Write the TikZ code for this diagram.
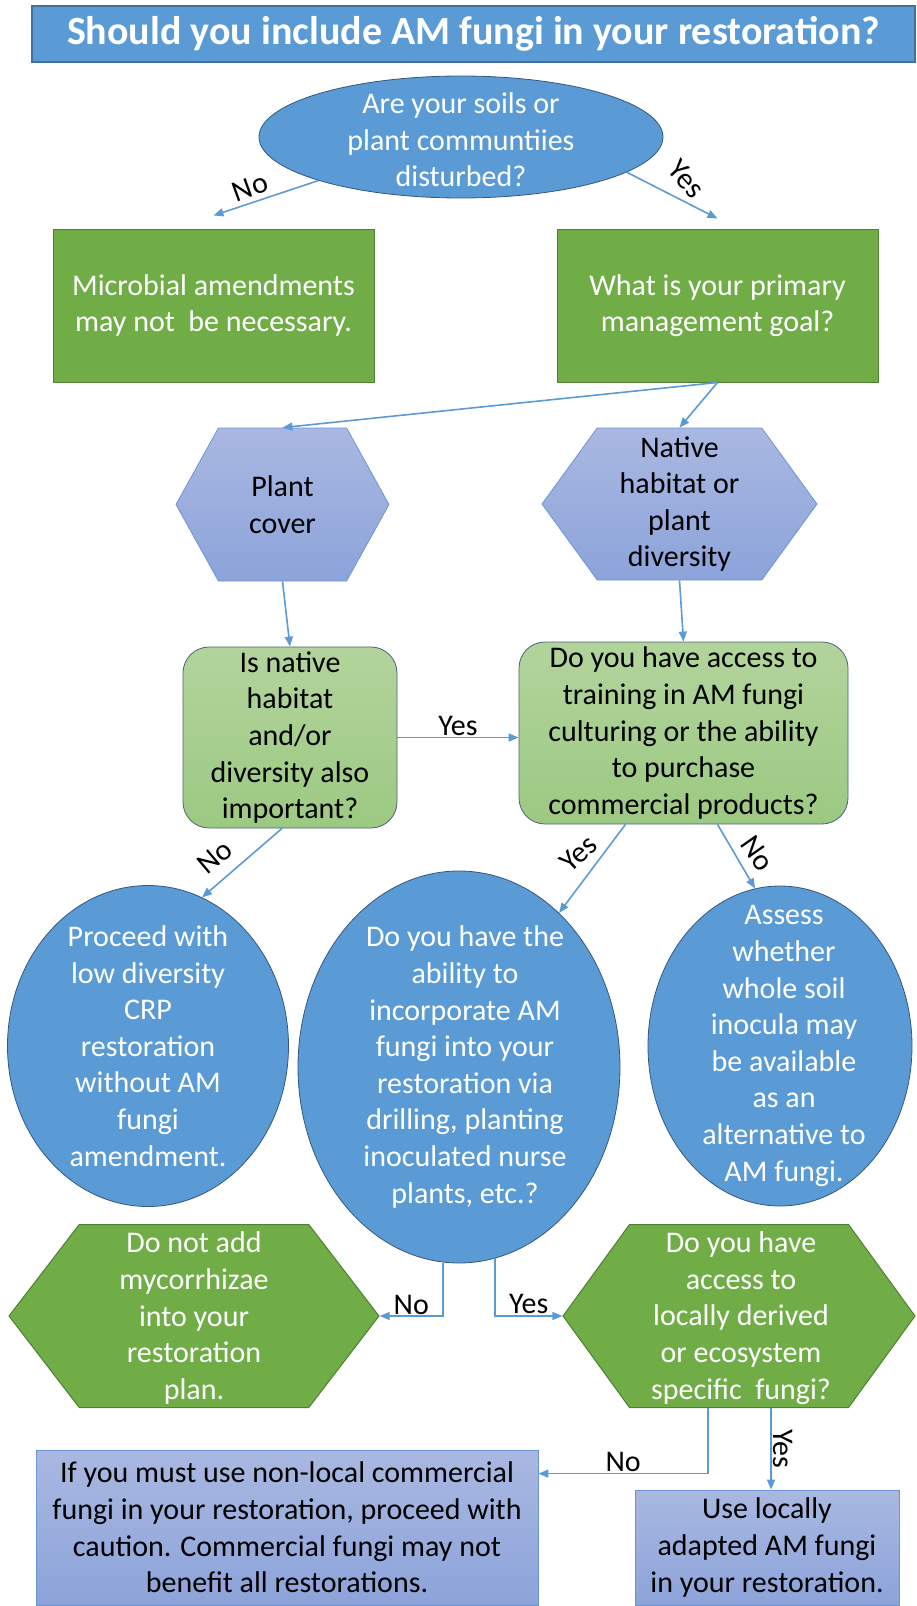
\documentclass[tikz,border=0pt]{standalone}
\usepackage{fontspec}
\setmainfont{Carlito}
\usepackage{xcolor}
\usetikzlibrary{shapes.geometric,shapes.symbols,arrows.meta}
\definecolor{accentblue}{HTML}{5B9BD5}
\definecolor{bluedark}{HTML}{41719C}
\definecolor{discline}{HTML}{35577F}
\definecolor{accentgreen}{HTML}{70AD47}
\definecolor{greendark}{HTML}{507E32}
\definecolor{paletop}{HTML}{A9B8E1}
\definecolor{palebottom}{HTML}{8CA3DA}
\definecolor{paleline}{HTML}{6A96D6}
\definecolor{softtop}{HTML}{B2D49C}
\definecolor{softbottom}{HTML}{9CC982}
\definecolor{softline}{HTML}{4A6378}
\newcommand{\bodyfont}{\fontsize{30}{36.6}\selectfont}
\tikzset{titlebox/.style={rectangle,draw=bluedark,line width=1.5pt,fill=accentblue,text=white,inner sep=0pt,font=\fontsize{40}{48}\selectfont\bfseries}}
\tikzset{bluedisc/.style={ellipse,draw=discline,line width=0.8pt,fill=accentblue,inner sep=0pt}}
\tikzset{greenbox/.style={rectangle,draw=greendark,line width=1pt,fill=accentgreen,text=white,align=center,font=\bodyfont,minimum width=321pt,minimum height=153pt}}
\tikzset{hexblue/.style={signal,signal to=east and west,draw=paleline,line width=0.8pt,top color=paletop,bottom color=palebottom,inner sep=0pt}}
\tikzset{hexgreen/.style={signal,signal to=east and west,draw=greendark,line width=1pt,fill=accentgreen,inner sep=0pt}}
\tikzset{softgreen/.style={rectangle,rounded corners=26pt,draw=softline,line width=0.8pt,top color=softtop,bottom color=softbottom,align=center,font=\bodyfont,inner sep=0pt}}
\tikzset{palebox/.style={rectangle,draw=paleline,line width=0.8pt,top color=paletop,bottom color=palebottom,align=center,font=\bodyfont,inner sep=2pt}}
\tikzset{whitetext/.style={text=white,align=center,font=\bodyfont,inner sep=0pt}}
\tikzset{blacktext/.style={text=black,align=center,font=\bodyfont,inner sep=0pt}}
\tikzset{answer/.style={text=black,font=\bodyfont,inner sep=1pt}}
\tikzset{flow/.style={draw=accentblue,line width=1.6pt,-{Triangle[length=10pt,width=8pt]}}}

\begin{document}
\begin{tikzpicture}[x=1pt,y=-1pt]
  % keep the page size
  \useasboundingbox (0,0) rectangle (916,1606);
  % title
  \node[titlebox,minimum width=883pt,minimum height=56pt] (title) at (473.5,34) {Should you include AM fungi in your restoration?};

  % first question and answers
  \node[bluedisc,minimum width=404pt,minimum height=122pt] (disturbed) at (461,137) {};
  \node[whitetext] (disturbedtext) at (461,140) {Are your soils or\\plant communtiies\\disturbed?};
  \node[greenbox] (microbial) at (213.5,305.5) {Microbial amendments\\may not\ \ be necessary.};
  \node[greenbox] (goal) at (717.5,305.5) {What is your primary\\management goal?};

  % goals
  \node[hexblue,minimum width=213pt,minimum height=153pt,signal pointer angle=122] (cover) at (282.5,504.5) {};
  \node[blacktext] (covertext) at (cover) {Plant\\cover};
  \node[hexblue,minimum width=275pt,minimum height=152pt,signal pointer angle=108] (native) at (679.5,504) {};
  \node[blacktext] (nativetext) at (native) {Native\\habitat or\\plant\\diversity};

  % second questions
  \node[softgreen,minimum width=214pt,minimum height=181pt] (important) at (290,737.5) {Is native\\habitat\\and/or\\diversity also\\important?};
  \node[softgreen,minimum width=329pt,minimum height=182pt] (access) at (683.5,733) {Do you have access to\\training in AM fungi\\culturing or the ability\\to purchase\\commercial products?};

  % the three discs
  \node[bluedisc,minimum width=281pt,minimum height=321pt] (lowdiv) at (148,1046) {};
  \node[whitetext] (lowdivtext) at (lowdiv) {Proceed with\\low diversity\\CRP\\restoration\\without AM\\fungi\\amendment.};
  \node[bluedisc,minimum width=322pt,minimum height=392pt] (incorporate) at (459,1067) {};
  \node[whitetext] (incorporatetext) at (465,1067) {Do you have the\\ability to\\incorporate AM\\fungi into your\\restoration via\\drilling, planting\\inoculated nurse\\plants, etc.?};
  \node[bluedisc,minimum width=264pt,minimum height=320pt] (assess) at (780,1046) {};
  \node[whitetext] (assesstext) at (784,1046) {Assess\\whether\\whole soil\\inocula may\\be available\\as an\\alternative to\\AM fungi.};

  % bottom hexagons
  \node[hexgreen,minimum width=370pt,minimum height=183pt,signal pointer angle=105] (noadd) at (194,1316) {};
  \node[whitetext] (noaddtext) at (194,1318) {Do not add\\mycorrhizae\\into your\\restoration\\plan.};
  \node[hexgreen,minimum width=352pt,minimum height=183pt,signal pointer angle=108] (local) at (739,1316) {};
  \node[whitetext] (localtext) at (741,1318) {Do you have\\access to\\locally derived\\or ecosystem\\specific\ \ fungi?};

  % last boxes
  \node[palebox,minimum width=502pt,minimum height=155pt] (caution) at (287,1527.5) {If you must use non-local commercial\\fungi in your restoration, proceed with\\caution. Commercial fungi may not\\benefit all restorations.};
  \node[palebox,minimum width=264pt,minimum height=115pt] (adapted) at (767,1547.5) {Use locally\\adapted AM fungi\\in your restoration.};

  % connectors
  \draw[flow] (disturbed.197) -- ([yshift=13pt]microbial.north) node[answer,pos=0.65,yshift=16pt,rotate=20] {No};
  \draw[flow] (disturbed.-12) -- ([yshift=10pt]goal.north) node[answer,pos=0.6,xshift=5pt,yshift=21pt,rotate=-48] {Yes};
  \draw[flow] (goal.south) -- (cover.north);
  \draw[flow] (goal.south) -- (native.north);
  \draw[flow] (cover.south) -- (important.north);
  \draw[flow] (native.south) -- (access.north);
  \draw[flow] (important.east) -- (important.east -| access.west) node[answer,midway,above] {Yes};
  \draw[flow] ([xshift=-8pt]important.south) -- (lowdiv.70) node[answer,pos=0.55,xshift=-23pt,yshift=9pt,rotate=40] {No};
  \draw[flow] ([xshift=-58pt]access.south) -- (incorporate.57) node[answer,pos=0.35,xshift=-24pt,yshift=2pt,rotate=42] {Yes};
  \draw[flow] ([xshift=34pt]access.south) -- (assess.99) node[answer,pos=0.45,xshift=23pt,rotate=-55] {No};
  \draw[flow] ([xshift=-16pt]incorporate.south) |- (noadd.east) node[answer,pos=0.75,above] {No};
  \draw[flow] ([xshift=36pt,yshift=5pt]incorporate.south) |- (local.west) node[answer,pos=0.75,above] {Yes};
  \draw[flow] ([xshift=-31pt]local.south) |- ([yshift=-24pt]caution.north east) node[answer,pos=0.75,above] {No};
  \draw[flow] ([xshift=32pt]local.south) -- ([xshift=32pt]local.south |- adapted.north) node[answer,midway,rotate=-90,anchor=south] {Yes};
\end{tikzpicture}
\end{document}
